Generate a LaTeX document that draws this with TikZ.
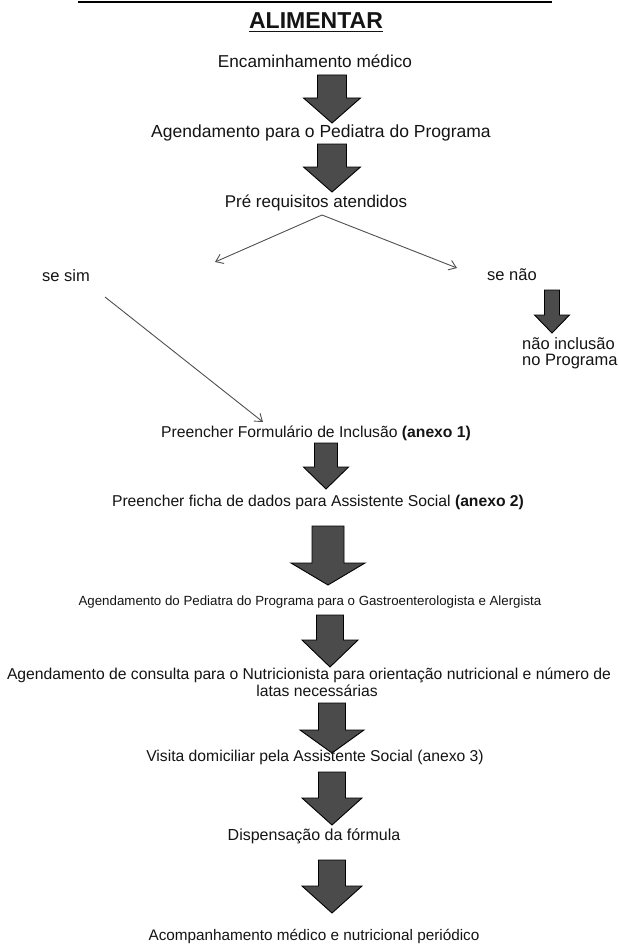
\documentclass[tikz,border=0pt]{standalone}
\usepackage{fontspec}
\setmainfont{Liberation Sans}
\usetikzlibrary{arrows.meta}
\definecolor{arrfill}{HTML}{4B4B4B}
\definecolor{txt}{HTML}{141414}
\definecolor{thin}{HTML}{505050}
\tikzset{
 lbl/.style={anchor=base, inner sep=0pt, text=txt, font=\fontsize{15.7}{17}\selectfont},
 lbll/.style={lbl, anchor=base west},
 big/.style={font=\fontsize{17.2}{19}\selectfont},
 barrow/.style={fill=arrfill, draw=black, line width=0.9pt, line join=miter},
 thinarr/.style={draw=thin, line width=0.9pt, -{Straight Barb[length=7pt,width=10pt]}},
}
% x, top, base, tip, shaft half width, head half width
\newcommand\blockarr[6]{\draw[barrow] ({#1-#5},#2) -- ({#1+#5},#2) -- ({#1+#5},#3) -- ({#1+#6},#3) -- (#1,#4) -- ({#1-#6},#3) -- ({#1-#5},#3) -- cycle;}
\begin{document}
\begin{tikzpicture}[x=1pt,y=-1pt]
\useasboundingbox (0,0) rectangle (618,947);
\fill[white] (0,0) rectangle (618,947);
% top rule
\draw[line width=2.5pt, black] (78,2) -- (552,2);
% title
\node[lbl, font=\fontsize{23}{25}\selectfont\bfseries] (title) at (316,28.5) {ALIMENTAR};
\draw[line width=1.5pt, txt] ([yshift=-3pt]title.base west) -- ([yshift=-3pt]title.base east);

\node[lbl, big] (enc) at (315,68) {Encaminhamento médico};
\blockarr{332}{75}{98}{123}{14.5}{28.5}
\node[lbl, font=\fontsize{17.5}{19}\selectfont] (agp) at (321,138) {Agendamento para o Pediatra do Programa};
\blockarr{332}{144}{167}{192}{14.5}{28.5}
\node[lbl, font=\fontsize{17}{19}\selectfont] (pre) at (316,207) {Pré requisitos atendidos};

\coordinate (split) at (322,215);
\coordinate (lend) at (215,262);
\coordinate (rend) at (457,268);
\draw[thinarr] (split) -- (lend);
\draw[thinarr] (split) -- (rend);

\node[lbl, font=\fontsize{16.5}{18}\selectfont] (sim) at (66,281) {se sim};
\node[lbl, font=\fontsize{16.5}{18}\selectfont] (nao) at (512,280) {se não};
\blockarr{552}{290}{315}{333}{7.5}{17.5}
\node[lbll, font=\fontsize{16.5}{18}\selectfont] (naoinc) at (522,349.5) {não inclusão};
\node[lbll, font=\fontsize{16.5}{18}\selectfont] (noprog) at (522,365.5) {no Programa};

\coordinate (simstart) at (105,297);
\coordinate (formend) at (263,422);
\draw[thinarr] (simstart) -- (formend);

\node[lbl] (form) at (316,437.5) {Preencher Formulário de Inclusão \textbf{(anexo 1)}};
\blockarr{326}{443}{467}{489}{11.5}{22.5}
\node[lbl] (ficha) at (318,506) {Preencher ficha de dados para Assistente Social \textbf{(anexo 2)}};
\blockarr{328}{526}{563}{585}{16}{37}
\node[lbl, font=\fontsize{13.3}{15}\selectfont] (gastro) at (310,605) {Agendamento do Pediatra do Programa para o Gastroenterologista e Alergista};
\blockarr{330}{615}{640}{667}{13.5}{28}
\node[lbl] (nutri) at (309,679) {Agendamento de consulta para o Nutricionista para orientação nutricional e número de};
\node[lbl] (latas) at (317,696) {latas necessárias};
\blockarr{332}{703}{730}{753}{13.5}{32}
\node[lbl] (visita) at (315,761) {Visita domiciliar pela Assistente Social (anexo 3)};
\blockarr{332}{772}{798}{825}{13.5}{30}
\node[lbl, font=\fontsize{16}{18}\selectfont] (disp) at (314,840) {Dispensação da fórmula};
\blockarr{332}{860}{886}{913}{13.5}{30}
\node[lbl, font=\fontsize{15.3}{17}\selectfont] (acomp) at (314,940) {Acompanhamento médico e nutricional periódico};
\end{tikzpicture}
\end{document}
